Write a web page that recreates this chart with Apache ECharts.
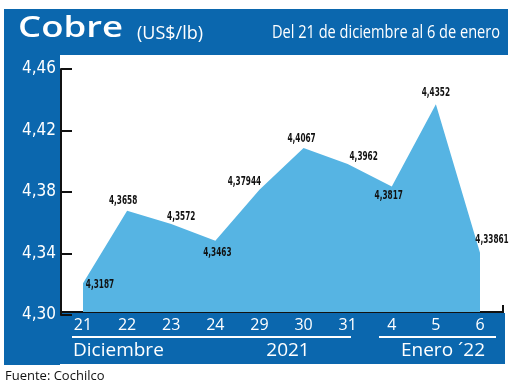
<!DOCTYPE html>
<html>
<head>
<meta charset="utf-8">
<script src="https://cdn.jsdelivr.net/npm/echarts@6/dist/echarts.min.js"></script>
<style>
html,body{margin:0;padding:0;background:#fff;}
#c{width:520px;height:386px;}
</style>
</head>
<body>
<div id="c"></div>
<script>
// ---- data ----
var categories = ['21', '22', '23', '24', '29', '30', '31', '4', '5', '6'];
var prices = [4.3187, 4.3658, 4.3572, 4.3463, 4.37944, 4.4067, 4.3962, 4.3817, 4.4352, 4.33861];
var yTicks = [4.30, 4.34, 4.38, 4.42, 4.46];
var groupLabels = ['Diciembre', '2021', 'Enero \u00b422'];
var titleText = 'Cobre';
var unitText = '(US$/lb)';
var subtitleText = 'Del 21 de diciembre al 6 de enero';
var sourceText = 'Fuente: Cochilco';

// ---- styles ----
var BLUE = '#0b67ae';
var FILL = '#56b4e3';
var COND = '"DejaVu Sans Condensed", "DejaVu Sans", sans-serif';
var SANS = '"Open Sans", sans-serif';
var labelOffsets = [[17, 2], [-4, -10], [10, -7], [2, 12], [-15, -8], [-2, -9], [16, -7], [-3, 9], [0, -11], [12, -13]];

function fmt(v) { return String(v).replace('.', ','); }

var measureCtx = document.createElement('canvas').getContext('2d');
function textWidth(text, font) { measureCtx.font = font; return measureCtx.measureText(text).width; }

var chart = echarts.init(document.getElementById('c'), null, { renderer: 'canvas' });
chart.setOption({
  animation: false,
  backgroundColor: '#fff',
  grid: [
    { left: 83, right: 40, top: 66, bottom: 74 },
    { left: 83, right: 40, top: 69, bottom: 71 }
  ],
  xAxis: [{
    gridIndex: 0,
    type: 'category',
    data: categories,
    boundaryGap: false,
    axisLine: { show: false },
    axisTick: { show: false },
    axisLabel: { color: '#fff', fontSize: 16, fontFamily: SANS, margin: 5 },
    splitLine: { show: false }
  }, {
    gridIndex: 1,
    type: 'category',
    data: categories,
    boundaryGap: false,
    show: false
  }],
  yAxis: [{
    gridIndex: 0,
    type: 'value',
    min: yTicks[0],
    max: yTicks[yTicks.length - 1],
    show: false,
    splitLine: { show: false }
  }, {
    gridIndex: 1,
    type: 'value',
    min: yTicks[0],
    max: yTicks[yTicks.length - 1],
    interval: 0.04,
    offset: 22,
    z: 4,
    axisLine: { show: true, lineStyle: { color: '#111', width: 2 } },
    axisTick: { show: true, inside: true, length: 11, lineStyle: { color: '#111', width: 2 } },
    axisLabel: {
      color: '#fff', fontSize: 17, fontFamily: COND, margin: 5,
      formatter: function (v) { return v.toFixed(2).replace('.', ','); }
    },
    splitLine: { show: false }
  }],
  series: [{
    type: 'line',
    xAxisIndex: 0,
    yAxisIndex: 0,
    data: prices,
    symbol: 'none',
    lineStyle: { width: 0, color: FILL },
    areaStyle: { color: FILL, opacity: 1 },
    z: 3
  }]
});

// data labels positioned through the chart's own scales
var labelFont = 'bold 12px ' + COND;
var valueLabels = prices.map(function (v, i) {
  var p = chart.convertToPixel({ xAxisIndex: 0, yAxisIndex: 0 }, [i, v]);
  return {
    type: 'text', z: 10,
    x: p[0] + labelOffsets[i][0], y: p[1] + labelOffsets[i][1],
    scaleX: 0.68,
    style: { x: 0, y: 0, text: fmt(v), fill: '#111', font: labelFont, textAlign: 'center', textVerticalAlign: 'middle' }
  };
});

var titleFont = '600 29px ' + SANS;
var titleScale = 105 / textWidth(titleText, titleFont);
var subFont = '19px ' + SANS;
var subScale = 228 / textWidth(subtitleText, subFont);

var graphics = [
  // blue frame pieces
  { type: 'rect', z: -1, shape: { x: 4, y: 9, width: 504, height: 46 }, style: { fill: BLUE } },
  { type: 'rect', z: -1, shape: { x: 4, y: 9, width: 56, height: 356 }, style: { fill: BLUE } },
  { type: 'rect', z: -1, shape: { x: 4, y: 313, width: 501, height: 51 }, style: { fill: BLUE } },
  // x axis base line (mostly hidden under the band)
  { type: 'polyline', z: -2, shape: { points: [[61, 312], [503, 312], [503, 305]] }, style: { stroke: '#111', lineWidth: 2, fill: null } },
  // white underlines
  { type: 'line', z: 5, shape: { x1: 72, y1: 337, x2: 351, y2: 337 }, style: { stroke: '#fff', lineWidth: 2 } },
  { type: 'line', z: 5, shape: { x1: 379, y1: 337, x2: 496, y2: 337 }, style: { stroke: '#fff', lineWidth: 2 } },
  // group labels
  { type: 'text', z: 5, style: { x: 73, y: 351, text: groupLabels[0], fill: '#fff', font: '19px ' + SANS, textAlign: 'left', textVerticalAlign: 'middle' } },
  { type: 'text', z: 5, style: { x: 288, y: 351, text: groupLabels[1], fill: '#fff', font: '19px ' + SANS, textAlign: 'center', textVerticalAlign: 'middle' } },
  { type: 'text', z: 5, style: { x: 485, y: 351, text: groupLabels[2], fill: '#fff', font: '19px ' + SANS, textAlign: 'right', textVerticalAlign: 'middle' } },
  // titles
  { type: 'text', z: 5, x: 18, y: 29, scaleX: titleScale, style: { x: 0, y: 0, text: titleText, fill: '#fff', font: titleFont, textAlign: 'left', textVerticalAlign: 'middle' } },
  { type: 'text', z: 5, style: { x: 137, y: 34, text: unitText, fill: '#fff', font: '18px ' + SANS, textAlign: 'left', textVerticalAlign: 'middle' } },
  { type: 'text', z: 5, x: 500, y: 33, scaleX: subScale, style: { x: 0, y: 0, text: subtitleText, fill: '#fff', font: subFont, textAlign: 'right', textVerticalAlign: 'middle' } },
  // source
  { type: 'text', z: 5, style: { x: 5, y: 376, text: sourceText, fill: '#111', font: '13px ' + SANS, textAlign: 'left', textVerticalAlign: 'middle' } }
].concat(valueLabels);

chart.setOption({ graphic: graphics });
</script>
</body>
</html>
